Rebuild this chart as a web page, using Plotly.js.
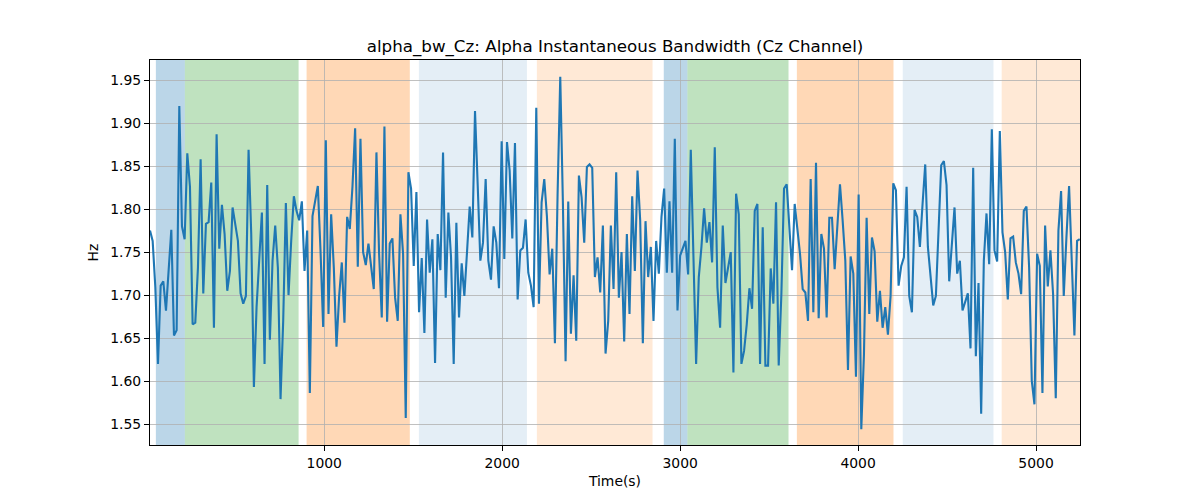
<!DOCTYPE html>
<html>
<head>
<meta charset="utf-8">
<script src="https://cdn.plot.ly/plotly-3.0.1.min.js"></script>
<style>html,body{margin:0;padding:0;background:#fff;}#chart{width:1200px;height:500px;}</style>
</head>
<body>
<div id="chart"></div>
<script>
// Sampling grid of the signal (seconds)
const T_START = 21;
const T_STEP = 14.97;

// Alpha instantaneous bandwidth (Hz)
const bandwidth = [
1.775,1.763,1.709,1.620,1.711,1.716,1.682,1.725,1.776,1.653,
1.659,1.920,1.780,1.765,1.865,1.826,1.666,1.668,1.732,1.858,
1.702,1.783,1.785,1.831,1.662,1.887,1.754,1.805,1.771,1.705,
1.728,1.802,1.783,1.763,1.702,1.690,1.699,1.869,1.771,1.593,
1.686,1.740,1.796,1.620,1.828,1.648,1.740,1.781,1.732,1.579,
1.670,1.807,1.700,1.763,1.815,1.798,1.787,1.809,1.728,1.775,
1.586,1.792,1.810,1.827,1.752,1.663,1.880,1.678,1.794,1.732,
1.640,1.699,1.738,1.668,1.791,1.777,1.826,1.894,1.733,1.882,
1.750,1.735,1.760,1.733,1.707,1.866,1.748,1.674,1.896,1.669,
1.760,1.766,1.697,1.670,1.794,1.748,1.557,1.843,1.824,1.734,
1.820,1.680,1.743,1.656,1.788,1.726,1.765,1.621,1.771,1.729,
1.866,1.697,1.796,1.744,1.620,1.784,1.674,1.737,1.699,1.750,
1.803,1.767,1.914,1.829,1.740,1.761,1.835,1.740,1.718,1.780,
1.761,1.708,1.879,1.742,1.878,1.845,1.766,1.877,1.695,1.752,
1.755,1.788,1.726,1.711,1.686,1.918,1.690,1.808,1.835,1.791,
1.724,1.754,1.644,1.818,1.954,1.806,1.623,1.809,1.655,1.723,
1.647,1.839,1.814,1.761,1.849,1.852,1.848,1.721,1.744,1.703,
1.781,1.632,1.670,1.781,1.707,1.843,1.697,1.750,1.646,1.771,
1.678,1.815,1.728,1.845,1.787,1.644,1.786,1.721,1.756,1.670,
1.763,1.725,1.791,1.824,1.726,1.809,1.726,1.882,1.682,1.746,
1.754,1.763,1.724,1.869,1.744,1.620,1.721,1.756,1.801,1.761,
1.785,1.738,1.872,1.709,1.662,1.781,1.714,1.732,1.750,1.610,
1.818,1.794,1.620,1.635,1.666,1.708,1.684,1.798,1.806,1.620,
1.779,1.618,1.618,1.731,1.690,1.808,1.618,1.701,1.824,1.829,
1.779,1.729,1.806,1.779,1.748,1.707,1.703,1.670,1.835,1.680,
1.854,1.673,1.771,1.754,1.674,1.790,1.790,1.730,1.779,1.829,
1.787,1.740,1.613,1.745,1.725,1.605,1.817,1.544,1.631,1.790,
1.678,1.767,1.751,1.669,1.705,1.662,1.686,1.654,1.699,1.830,
1.822,1.711,1.734,1.744,1.826,1.699,1.680,1.799,1.791,1.756,
1.806,1.852,1.756,1.717,1.688,1.699,1.771,1.851,1.856,1.828,
1.716,1.765,1.802,1.725,1.740,1.682,1.693,1.702,1.638,1.848,
1.629,1.714,1.562,1.740,1.795,1.736,1.893,1.752,1.739,1.891,
1.773,1.750,1.695,1.766,1.768,1.738,1.725,1.701,1.798,1.803,
1.732,1.600,1.573,1.748,1.734,1.586,1.781,1.710,1.752,1.701,
1.580,1.775,1.821,1.699,1.767,1.827,1.740,1.653,1.763,1.765
];

// Shaded segments (seconds)
const spanStart = [54, 217, 901, 1532, 2195, 2908, 3041, 3656, 4251, 4807];
const spanEnd   = [217, 856, 1481, 2139, 2845, 3041, 3609, 4199, 4761, 5260];
const spanColor = [
  'rgba(31,119,180,0.3)', 'rgba(44,160,44,0.3)', 'rgba(255,127,14,0.3)',
  'rgba(31,119,180,0.12)', 'rgba(255,127,14,0.17)',
  'rgba(31,119,180,0.3)', 'rgba(44,160,44,0.3)', 'rgba(255,127,14,0.3)',
  'rgba(31,119,180,0.12)', 'rgba(255,127,14,0.17)'
];

const yTicks = [1.55, 1.60, 1.65, 1.70, 1.75, 1.80, 1.85, 1.90, 1.95];
const xTicks = [1000, 2000, 3000, 4000, 5000];

const times = bandwidth.map((_, i) => T_START + i * T_STEP);

const shapes = spanStart.map((s, i) => ({
  type: 'rect', xref: 'x', yref: 'paper',
  x0: s, x1: spanEnd[i], y0: 0, y1: 1,
  fillcolor: spanColor[i], line: {width: 0}, layer: 'below'
}));

const trace = {
  x: times, y: bandwidth, type: 'scatter', mode: 'lines',
  line: {color: '#1f77b4', width: 2.1}, hoverinfo: 'skip'
};

const axisCommon = {
  showgrid: true, gridcolor: '#b0b0b0', gridwidth: 0.8,
  showline: true, linecolor: '#000', linewidth: 1, mirror: true,
  ticks: 'outside', ticklen: 5, tickwidth: 1, tickcolor: '#000',
  zeroline: false, tickfont: {family: 'DejaVu Sans', size: 13.9, color: '#000'}
};

const layout = {
  width: 1200, height: 500,
  margin: {l: 150, r: 120, t: 60, b: 55},
  paper_bgcolor: '#fff', plot_bgcolor: '#fff',
  showlegend: false,
  title: {text: 'alpha_bw_Cz: Alpha Instantaneous Bandwidth (Cz Channel)',
          font: {family: 'DejaVu Sans', size: 16.7, color: '#000'},
          x: 0.5, xref: 'paper', y: 0.908, yanchor: 'middle'},
  xaxis: Object.assign({}, axisCommon, {
    range: [21, 5247], tickvals: xTicks, ticktext: xTicks.map(String),
    title: {text: 'Time(s)', font: {family: 'DejaVu Sans', size: 13.9, color: '#000'}, standoff: 6}
  }),
  yaxis: Object.assign({}, axisCommon, {
    range: [1.5256, 1.9735], tickvals: yTicks, ticktext: yTicks.map(v => v.toFixed(2)),
    title: {text: 'Hz', font: {family: 'DejaVu Sans', size: 13.9, color: '#000'}, standoff: 8}
  }),
  shapes: shapes
};

Plotly.newPlot('chart', [trace], layout, {staticPlot: true, displayModeBar: false});
</script>
</body>
</html>
